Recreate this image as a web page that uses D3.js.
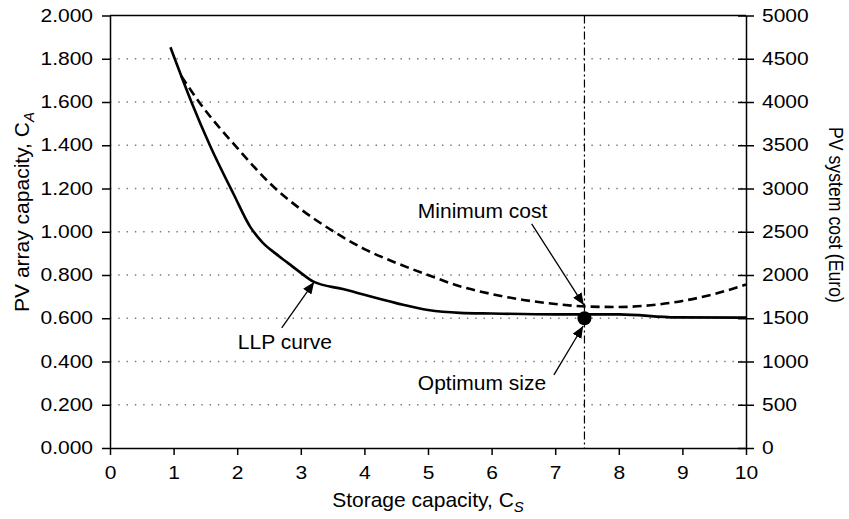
<!DOCTYPE html>
<html lang="en">
<head>
<meta charset="utf-8">
<title>PV sizing</title>
<script src="https://cdn.jsdelivr.net/npm/d3@7"></script>
<style>
  body { margin: 0; background: #fff; }
  svg { font-family: "Liberation Sans", Arial, sans-serif; }
  .axis path, .axis line { stroke: #000; stroke-width: 1.5; }
  .axis text { font-size: 17.5px; fill: #000; }
  .grid line { stroke: #777; stroke-width: 1.4; stroke-dasharray: 1.4 6.9; }
  .title, .note { font-size: 21px; fill: #000; }
</style>
</head>
<body>
<div id="chart"></div>
<script>
// LLP curve (left axis, PV array capacity C_A vs storage capacity C_S)
var llpX = [0.95, 1.28, 1.57, 1.95, 2.2, 2.4, 2.6, 2.8, 3.0, 3.2, 3.66, 4.5, 5.0, 5.5, 6.0, 7.0, 8.0, 8.9, 10.0];
var llpY = [1.853, 1.60, 1.40, 1.17, 1.025, 0.95, 0.90, 0.855, 0.81, 0.769, 0.735, 0.67, 0.638, 0.625, 0.622, 0.618, 0.618, 0.604, 0.603];

// PV system cost (right axis, Euro)
var costX = [1.12, 1.4, 2.0, 2.6, 3.0, 3.5, 4.0, 4.5, 5.0, 5.5, 6.0, 6.5, 7.0, 7.5, 8.0, 8.5, 9.0, 9.5, 10.0];
var costY = [4300, 4000, 3470, 3000, 2760, 2510, 2300, 2140, 2000, 1870, 1780, 1712, 1665, 1635, 1630, 1650, 1700, 1780, 1890];

// optimum point
var optX = 7.46, optY = 0.6;

var xTicks = [0, 1, 2, 3, 4, 5, 6, 7, 8, 9, 10];
var leftTicks = [0, 0.2, 0.4, 0.6, 0.8, 1.0, 1.2, 1.4, 1.6, 1.8, 2.0];
var rightTicks = [0, 500, 1000, 1500, 2000, 2500, 3000, 3500, 4000, 4500, 5000];

var W = 849, H = 519;
var margin = { top: 15.5, right: 103, bottom: 71, left: 110 },
    width = W - margin.left - margin.right,
    height = H - margin.top - margin.bottom;

var x = d3.scaleLinear().domain([0, 10]).range([0, width]);
var y = d3.scaleLinear().domain([0, 2]).range([height, 0]);
var y2 = d3.scaleLinear().domain([0, 5000]).range([height, 0]);

var svg = d3.select("#chart").append("svg")
    .attr("width", W).attr("height", H);

svg.append("defs").append("marker")
    .attr("id", "arrow")
    .attr("viewBox", "0 0 12 10")
    .attr("refX", 12).attr("refY", 5)
    .attr("markerWidth", 12).attr("markerHeight", 10)
    .attr("markerUnits", "userSpaceOnUse")
    .attr("orient", "auto")
  .append("path")
    .attr("d", "M0,0L12,5L0,10Z")
    .attr("fill", "#000");

var g = svg.append("g")
    .attr("transform", "translate(" + margin.left + "," + margin.top + ")");

// gridlines
g.append("g").attr("class", "grid")
  .selectAll("line")
  .data(leftTicks.filter(function(d){ return d > 0 && d < 2; }))
  .enter().append("line")
    .attr("x1", 0).attr("x2", width)
    .attr("y1", function(d){ return y(d); })
    .attr("y2", function(d){ return y(d); });

// top frame line
g.append("line")
    .attr("x1", 0).attr("x2", width)
    .attr("y1", 0).attr("y2", 0)
    .attr("stroke", "#000").attr("stroke-width", 1.5);

var sx = 1.2; // tick labels are drawn a bit wider than normal

var xAxis = g.append("g").attr("class", "axis")
    .attr("transform", "translate(0," + height + ")")
    .call(d3.axisBottom(x).tickValues(xTicks).tickSize(7).tickSizeOuter(0).tickPadding(12).tickFormat(d3.format("d")));
xAxis.selectAll("text").attr("transform", "scale(" + sx + ",1)");

var yAxis = g.append("g").attr("class", "axis")
    .call(d3.axisLeft(y).tickValues(leftTicks).tickSize(8).tickSizeOuter(0).tickFormat(d3.format(".3f")));
yAxis.selectAll("text").attr("x", -17 / sx).attr("transform", "scale(" + sx + ",1)");

var y2Axis = g.append("g").attr("class", "axis")
    .attr("transform", "translate(" + width + ",0)")
    .call(d3.axisRight(y2).tickValues(rightTicks).tickSize(8).tickSizeOuter(0).tickFormat(d3.format("d")));
y2Axis.selectAll(".tick line").attr("x1", -8);
y2Axis.selectAll("text").attr("x", 16 / sx).attr("transform", "scale(" + sx + ",1)");

// vertical dash-dot line at the optimum
g.append("line")
    .attr("x1", x(optX)).attr("x2", x(optX))
    .attr("y1", 0).attr("y2", height)
    .attr("stroke", "#000").attr("stroke-width", 1.2)
    .attr("stroke-dasharray", "8 3 2 3");

// cost curve (dashed)
var costLine = d3.line()
    .x(function(d){ return x(d[0]); })
    .y(function(d){ return y2(d[1]); })
    .curve(d3.curveMonotoneX);
g.append("path")
    .datum(d3.zip(costX, costY))
    .attr("d", costLine)
    .attr("fill", "none").attr("stroke", "#000")
    .attr("stroke-width", 2.6).attr("stroke-dasharray", "9 5");

// LLP curve (solid)
var llpLine = d3.line()
    .x(function(d){ return x(d[0]); })
    .y(function(d){ return y(d[1]); })
    .curve(d3.curveMonotoneX);
g.append("path")
    .datum(d3.zip(llpX, llpY))
    .attr("d", llpLine)
    .attr("fill", "none").attr("stroke", "#000")
    .attr("stroke-width", 2.6);

// optimum dot
g.append("circle")
    .attr("cx", x(optX)).attr("cy", y(optY))
    .attr("r", 7).attr("fill", "#000");

// annotations (positions in data units of the left axis)
var notes = [
  { text: "Minimum cost", tx: 4.84, ty: 1.064, from: [6.63, 1.036], to: [7.45, 0.661] },
  { text: "LLP curve", tx: 2.01, ty: 0.458, from: [2.70, 0.555], to: [3.21, 0.768] },
  { text: "Optimum size", tx: 4.84, ty: 0.268, from: [6.98, 0.338], to: [7.44, 0.564] }
];
notes.forEach(function(n){
  g.append("text").attr("class", "note")
      .attr("x", x(n.tx)).attr("y", y(n.ty))
      .text(n.text);
  g.append("line")
      .attr("x1", x(n.from[0])).attr("y1", y(n.from[1]))
      .attr("x2", x(n.to[0])).attr("y2", y(n.to[1]))
      .attr("stroke", "#000").attr("stroke-width", 1.3)
      .attr("marker-end", "url(#arrow)");
});

// axis titles
var xt = svg.append("text").attr("class", "title")
    .attr("x", margin.left + width / 2).attr("y", 507)
    .attr("text-anchor", "middle");
xt.append("tspan").text("Storage capacity, C");
xt.append("tspan").attr("font-size", "15px").attr("font-style", "italic").attr("dy", 5).text("S");

var yt = svg.append("text").attr("class", "title")
    .attr("transform", "translate(29,212) rotate(-90)")
    .attr("text-anchor", "middle");
yt.append("tspan").text("PV array capacity, C");
yt.append("tspan").attr("font-size", "15px").attr("font-style", "italic").attr("dy", 5).text("A");

svg.append("text").attr("class", "title")
    .attr("transform", "translate(829,215) rotate(90)")
    .attr("text-anchor", "middle")
    .attr("font-size", "20px")
    .attr("textLength", 176).attr("lengthAdjust", "spacingAndGlyphs")
    .text("PV system cost (Euro)");
</script>
</body>
</html>
